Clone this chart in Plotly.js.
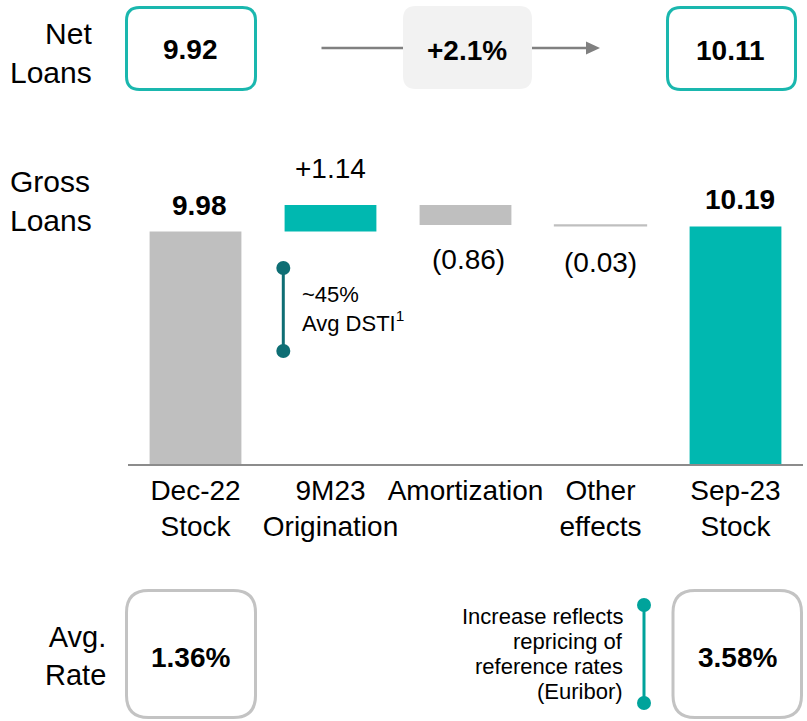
<!DOCTYPE html>
<html>
<head>
<meta charset="utf-8">
<script src="https://cdn.plot.ly/plotly-3.0.1.min.js"></script>
<style>html,body{margin:0;padding:0;background:#fff;}#chart{width:807px;height:721px;}</style>
</head>
<body>
<div id="chart"></div>
<script>
// ---------- DATA ----------
const categories = ['Dec-22<br>Stock', '9M23<br>Origination', 'Amortization', 'Other<br>effects', 'Sep-23<br>Stock'];
const values = [9.98, 1.14, -0.86, -0.03, 10.19];
const measures = ['absolute', 'relative', 'relative', 'relative', 'total'];
const valueLabels = ['9.98', '+1.14', '(0.86)', '(0.03)', '10.19'];
const netLoans = ['9.92', '10.11'];
const netLoansChange = '+2.1%';
const avgRate = ['1.36%', '3.58%'];
const dstiNote = ['~45%', 'Avg DSTI<sup>1</sup>'];
const rateNote = ['Increase reflects', 'repricing of', 'reference rates', '(Euribor)'];

// ---------- STYLE ----------
const GRAY = '#bfbfbf', TEAL = '#00b8b0';
const barColors = ['#bfbfbf', TEAL, '#bfbfbf', '#bfbfbf', TEAL];
const barLineW = [0, 0, 0, 1.5, 0];
const labelBold = [true, false, false, false, true];
const labelShift = [26, 36, -35, -37, 27];
const labelXShift = [4, 0, 3, 0, 4];
const FONT = 'Liberation Sans, Arial, Helvetica, sans-serif';

// waterfall bases from data
const bases = [], heights = [];
let running = 0;
values.forEach((v, i) => {
  if (measures[i] === 'relative') { bases.push(running); heights.push(v); running += v; }
  else { bases.push(0); heights.push(v); running = v; }
});
const xs = categories.map((c, i) => i);

// ---------- GEOMETRY ----------
const L = 128, R = 803, T = 150, B = 464;
const px = x => (x - L) / (R - L);
const py = y => (B - y) / (B - T);

function roundRect(x0, y0, x1, y1, r) {
  const p = (x, y) => px(x) + ',' + py(y);
  return 'M' + p(x0 + r, y0) + ' L' + p(x1 - r, y0) + ' Q' + p(x1, y0) + ' ' + p(x1, y0 + r) +
    ' L' + p(x1, y1 - r) + ' Q' + p(x1, y1) + ' ' + p(x1 - r, y1) +
    ' L' + p(x0 + r, y1) + ' Q' + p(x0, y1) + ' ' + p(x0, y1 - r) +
    ' L' + p(x0, y0 + r) + ' Q' + p(x0, y0) + ' ' + p(x0 + r, y0) + ' Z';
}
function circle(cx, cy, r, color) {
  return {type: 'circle', xref: 'paper', yref: 'paper', x0: px(cx - r), x1: px(cx + r), y0: py(cy + r), y1: py(cy - r),
    fillcolor: color, line: {width: 0}, layer: 'above'};
}
function vline(x, y0, y1, color, w) {
  return {type: 'line', xref: 'paper', yref: 'paper', x0: px(x), x1: px(x), y0: py(y0), y1: py(y1), line: {color: color, width: w}};
}
function hline(x0, x1, y, color, w) {
  return {type: 'line', xref: 'paper', yref: 'paper', x0: px(x0), x1: px(x1), y0: py(y), y1: py(y), line: {color: color, width: w}};
}
function txt(text, x, y, size, xanchor, align, color) {
  return {text: text, xref: 'paper', yref: 'paper', x: px(x), y: py(y), xanchor: xanchor || 'center', yanchor: 'middle',
    align: align || 'center', showarrow: false, font: {family: FONT, size: size, color: color || '#000'}};
}

const shapes = [
  {type: 'path', xref: 'paper', yref: 'paper', path: roundRect(126.5, 7.5, 255.5, 89.5, 13), fillcolor: '#fff', line: {color: '#1ab7ae', width: 3}},
  {type: 'path', xref: 'paper', yref: 'paper', path: roundRect(403, 6, 532, 89, 13), fillcolor: '#f2f2f2', line: {width: 0}},
  {type: 'path', xref: 'paper', yref: 'paper', path: roundRect(667.5, 7.5, 795.5, 89.5, 13), fillcolor: '#fff', line: {color: '#1ab7ae', width: 3}},
  hline(321.5, 403, 48, '#808080', 2.5),
  hline(532, 588, 48, '#808080', 2.5),
  {type: 'path', xref: 'paper', yref: 'paper', path: 'M' + px(586) + ',' + py(41.5) + ' L' + px(600) + ',' + py(48) + ' L' + px(586) + ',' + py(54.5) + ' Z', fillcolor: '#808080', line: {width: 0}},
  {type: 'path', xref: 'paper', yref: 'paper', path: roundRect(126.5, 590.5, 255.5, 717.5, 22), fillcolor: '#fff', line: {color: '#c3c3c3', width: 3}},
  {type: 'path', xref: 'paper', yref: 'paper', path: roundRect(673, 590.5, 801.5, 717.5, 22), fillcolor: '#fff', line: {color: '#c3c3c3', width: 3}},
  vline(283.3, 268, 351, '#0e6e74', 3),
  circle(283.3, 268, 7, '#0e6e74'),
  circle(283.3, 351, 7, '#0e6e74'),
  vline(644, 605, 703, '#00a39b', 3),
  circle(644, 605, 7, '#00a39b'),
  circle(644, 703, 7, '#00a39b')
];

const annotations = [
  txt('Net<br>Loans', 94, 53, 30, 'right', 'right'),
  txt('Gross<br>Loans', 8, 201, 30, 'left', 'left'),
  txt('Avg.<br>Rate', 108, 656, 29, 'right', 'right'),
  txt('<b>' + netLoans[0] + '</b>', 190, 49.5, 28),
  txt('<b>' + netLoansChange + '</b>', 467, 51, 28),
  txt('<b>' + netLoans[1] + '</b>', 730, 50, 28),
  txt('<b>' + avgRate[0] + '</b>', 190, 657, 28),
  txt('<b>' + avgRate[1] + '</b>', 737, 657, 28),
  txt(dstiNote.join('<br>'), 300, 309, 22, 'left', 'left')
];
rateNote.forEach((line, i) => annotations.push(txt(line, 625, 616.5 + 25 * i, 22, 'right', 'right')));

valueLabels.forEach((lab, i) => {
  const edge = bases[i] + heights[i];
  annotations.push({
    text: labelBold[i] ? '<b>' + lab + '</b>' : lab,
    x: xs[i], y: edge, xref: 'x', yref: 'y', xanchor: 'center', yanchor: 'middle',
    yshift: labelShift[i], xshift: labelXShift[i], showarrow: false,
    font: {family: FONT, size: 28, color: '#000'}
  });
});

const trace = {
  type: 'bar', x: xs, y: heights, base: bases,
  marker: {color: barColors, line: {color: GRAY, width: barLineW}},
  hoverinfo: 'skip'
};

const layout = {
  width: 807, height: 721,
  margin: {l: L, r: 807 - R, t: T, b: 721 - B, pad: 0},
  paper_bgcolor: '#fff', plot_bgcolor: '#fff',
  showlegend: false, bargap: 0.32,
  font: {family: FONT, color: '#000'},
  xaxis: {range: [-0.5, 4.5], tickvals: xs, ticktext: categories, tickangle: 0, showgrid: false, zeroline: false,
    showline: true, linecolor: '#8c8c8c', linewidth: 2, ticks: '', tickfont: {family: FONT, size: 28, color: '#000'}, fixedrange: true},
  yaxis: {range: [0, 13.476], visible: false, showgrid: false, zeroline: false, fixedrange: true},
  shapes: shapes, annotations: annotations
};

Plotly.newPlot('chart', [trace], layout, {displayModeBar: false, staticPlot: true});
</script>
</body>
</html>
